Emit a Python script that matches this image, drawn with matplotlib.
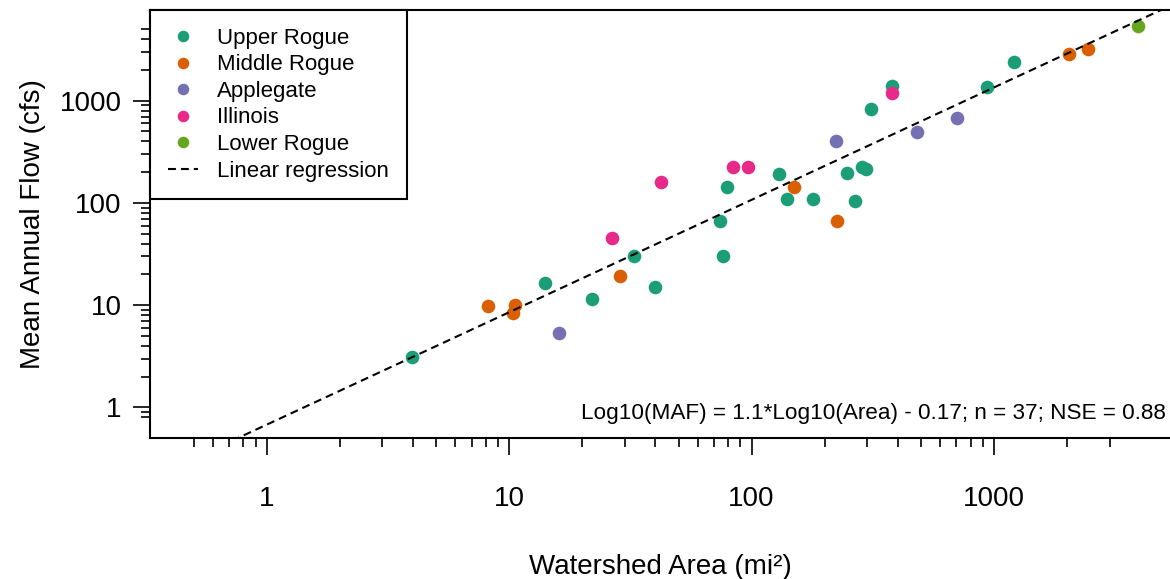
import matplotlib.pyplot as plt
import numpy as np
from matplotlib.ticker import FixedLocator, NullFormatter

plt.rcParams['font.family'] = ['Liberation Sans', 'DejaVu Sans']

# watershed area (mi2) and mean annual flow (cfs)
upper_area = [3.96, 14.0, 22.0, 32.7, 39.8, 74.1, 76.4, 78.9, 130, 140, 179,
              247, 267, 285, 297, 311, 381, 938, 1213]
upper_maf = [3.13, 16.3, 11.4, 30.4, 15.1, 66.5, 30.2, 144, 191, 109, 110,
             194, 105, 223, 214, 824, 1393, 1371, 2376]
middle_area = [8.15, 10.6, 10.4, 28.7, 150, 226, 2045, 2449]
middle_maf = [9.87, 10.0, 8.31, 19.4, 144, 66.5, 2845, 3184]
apple_area = [16.1, 224, 483, 702]
apple_maf = [5.33, 406, 497, 673]
illinois_area = [26.6, 42.3, 84.0, 96.6, 381]
illinois_maf = [45.4, 160, 226, 225, 1181]
lower_area = [3939]
lower_maf = [5418]

regions = ["Upper Rogue", "Middle Rogue", "Applegate", "Illinois", "Lower Rogue"]
colors = ["#1B9E77", "#D95F02", "#7570B3", "#E7298A", "#66A61E"]

# fit: log10(MAF) = slope*log10(area) + intercept
slope = 1.1
intercept = -0.17
equation = "Log10(MAF) = 1.1*Log10(Area) - 0.17; n = 37; NSE = 0.88"

major_ticks = [1, 10, 100, 1000]
tick_labels = ["1", "10", "100", "1000"]

fig = plt.figure(figsize=(11.7, 5.79), dpi=100)
ax = fig.add_axes([150/1170, 1 - 438.3/579, 1 - 150/1170, 428.3/579])

areas = [upper_area, middle_area, apple_area, illinois_area, lower_area]
mafs = [upper_maf, middle_maf, apple_maf, illinois_maf, lower_maf]
for a, q, name, c in zip(areas, mafs, regions, colors):
    ax.plot(a, q, 'o', ms=9.8, color=c, mec='none', label=name, zorder=2)

xlim = (0.33, 5320)
ylim = (0.497, 7720)
xs = np.logspace(np.log10(xlim[0]), np.log10(xlim[1]), 100)
ys = 10 ** (slope * np.log10(xs) + intercept)
ax.plot(xs, ys, color='black', lw=1.5, dashes=(3.8, 2.4),
        label="Linear regression", zorder=3)

ax.set_xscale('log')
ax.set_yscale('log')
ax.set_xlim(xlim)
ax.set_ylim(ylim)

# minor ticks at 2..9 of each decade, over the range the original draws
x_minor = [m * d for d in [0.1, 1, 10, 100, 1000] for m in range(2, 10)]
x_minor = [v for v in x_minor if 0.45 < v < 3500]
y_minor = [m * d for d in [0.1, 1, 10, 100, 1000] for m in range(2, 10)]
y_minor = [v for v in y_minor if 0.75 < v <= 5000]

ax.xaxis.set_major_locator(FixedLocator(major_ticks))
ax.yaxis.set_major_locator(FixedLocator(major_ticks))
ax.xaxis.set_minor_locator(FixedLocator(x_minor))
ax.yaxis.set_minor_locator(FixedLocator(y_minor))
ax.xaxis.set_minor_formatter(NullFormatter())
ax.yaxis.set_minor_formatter(NullFormatter())
ax.set_xticklabels(tick_labels)
ax.set_yticklabels(tick_labels)

ax.tick_params(which='major', length=12.5, width=1.2, labelsize=20, color='black')
ax.tick_params(which='minor', length=6.8, width=1.2, color='black')
ax.tick_params(axis='x', which='major', pad=22)
ax.tick_params(axis='y', which='major', pad=8)

for s in ['left', 'bottom', 'top']:
    ax.spines[s].set_linewidth(1.5)
ax.spines['right'].set_visible(False)

ax.set_xlabel("Watershed Area (mi²)", fontsize=20, labelpad=30)
ax.set_ylabel("Mean Annual Flow (cfs)", fontsize=20, labelpad=10)

ax.text(0.996, 0.058, equation, transform=ax.transAxes, ha='right', va='center',
        fontsize=16.2)

leg = ax.legend(loc='upper left', bbox_to_anchor=(0, 1), borderaxespad=0,
                fontsize=16, markerscale=0.85, fancybox=False, framealpha=1,
                edgecolor='black', handlelength=1.35, handletextpad=0.86,
                borderpad=0.8, labelspacing=0.25)
leg.get_frame().set_linewidth(1.5)

fig.savefig("out.png", dpi=100)
